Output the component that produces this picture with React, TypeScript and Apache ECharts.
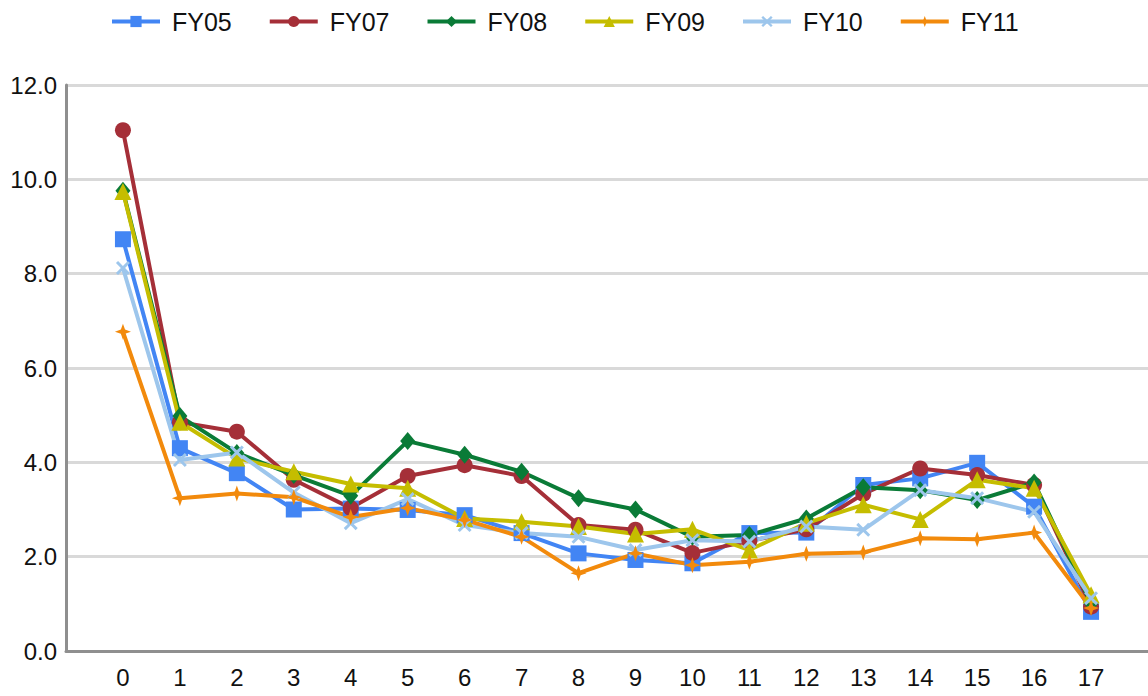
import React, { useEffect, useRef } from "react";
import * as echarts from "echarts";

const categories = ["0","1","2","3","4","5","6","7","8","9","10","11","12","13","14","15","16","17"];
const yTicks = [0, 2, 4, 6, 8, 10, 12];

const fy05 = [8.73, 4.30, 3.77, 3.00, 3.02, 2.99, 2.88, 2.50, 2.07, 1.93, 1.86, 2.50, 2.51, 3.52, 3.66, 3.99, 3.06, 0.83];
const fy07 = [11.04, 4.85, 4.65, 3.63, 3.03, 3.71, 3.94, 3.71, 2.67, 2.57, 2.08, 2.33, 2.58, 3.33, 3.87, 3.73, 3.52, 0.94];
const fy08 = [9.76, 4.98, 4.20, 3.73, 3.29, 4.45, 4.16, 3.80, 3.24, 3.00, 2.42, 2.46, 2.81, 3.47, 3.41, 3.20, 3.57, 1.01];
const fy09 = [9.74, 4.85, 4.09, 3.80, 3.54, 3.45, 2.81, 2.74, 2.64, 2.48, 2.58, 2.14, 2.71, 3.10, 2.79, 3.63, 3.45, 1.19];
const fy10 = [8.12, 4.05, 4.21, 3.36, 2.71, 3.22, 2.67, 2.50, 2.42, 2.14, 2.35, 2.32, 2.64, 2.57, 3.41, 3.24, 2.95, 1.12];
const fy11 = [6.77, 3.24, 3.34, 3.26, 2.84, 3.03, 2.78, 2.42, 1.65, 2.07, 1.82, 1.89, 2.06, 2.09, 2.39, 2.37, 2.51, 0.91];

const seriesNames = ["FY05", "FY07", "FY08", "FY09", "FY10", "FY11"];
const seriesValues = [fy05, fy07, fy08, fy09, fy10, fy11];
const colors = ["#4285f4", "#a52f38", "#0a7b37", "#c5bd00", "#9dc6ec", "#f28a0c"];

const X_PATH = "path://M-10,-7 L-7,-10 L0,-3 L7,-10 L10,-7 L3,0 L10,7 L7,10 L0,3 L-7,10 L-10,7 L-3,0 Z";
const STAR_PATH = "path://M0,-10 L2.6,-2.6 L10,0 L2.6,2.6 L0,10 L-2.6,2.6 L-10,0 L-2.6,-2.6 Z";
const symbols = ["rect", "circle", "diamond", "triangle", X_PATH, STAR_PATH];
const symbolSizes: any[] = [16, 16, [15, 18], 17, 14, 16];

const FONT = "'Liberation Sans', Arial, sans-serif";

export default function App() {
  const ref = useRef<HTMLDivElement>(null);
  useEffect(() => {
    if (!ref.current) return;
    const chart = echarts.init(ref.current, undefined, { renderer: "svg" });
    chart.setOption({
      animation: false,
      backgroundColor: "#ffffff",
      color: colors,
      legend: {
        top: 4,
        left: 105,
        itemWidth: 48,
        itemHeight: 14,
        itemGap: 36,
        lineStyle: { width: 4 },
        textStyle: { fontSize: 25, color: "#111", fontFamily: FONT, padding: [0, 0, 0, 7] },
        data: seriesNames,
      },
      grid: { left: 66, top: 85, width: 1087, bottom: 45, containLabel: false },
      xAxis: {
        type: "value",
        min: -1,
        max: 18,
        interval: 1,
        axisLine: { show: true, onZero: false, lineStyle: { color: "#8f8f8f", width: 3 } },
        axisTick: { show: false },
        splitLine: { show: false },
        axisLabel: {
          fontSize: 24,
          color: "#111",
          fontFamily: FONT,
          margin: 14,
          showMinLabel: false,
          showMaxLabel: false,
          formatter: (v: number) => (v >= 0 && v < categories.length ? categories[v] : ""),
        },
      },
      yAxis: {
        type: "value",
        min: yTicks[0],
        max: yTicks[yTicks.length - 1],
        interval: 2,
        axisLine: { show: true, onZero: false, lineStyle: { color: "#8f8f8f", width: 3 } },
        axisTick: { show: false },
        splitLine: { show: true, lineStyle: { color: "#d9d9d9", width: 3 } },
        axisLabel: {
          fontSize: 24,
          color: "#111",
          fontFamily: FONT,
          margin: 9,
          formatter: (v: number) => v.toFixed(1),
        },
      },
      series: seriesNames.map((name, i) => ({
        name,
        type: "line",
        data: seriesValues[i].map((v, j) => [Number(categories[j]), v]),
        symbol: symbols[i],
        symbolSize: symbolSizes[i],
        showAllSymbol: true,
        lineStyle: { width: 4, color: colors[i] },
        itemStyle: { color: colors[i] },
        emphasis: { disabled: true },
      })),
    });
    return () => chart.dispose();
  }, []);
  return <div ref={ref} style={{ width: 1148, height: 696, position: "absolute", left: 0, top: 0 }} />;
}
